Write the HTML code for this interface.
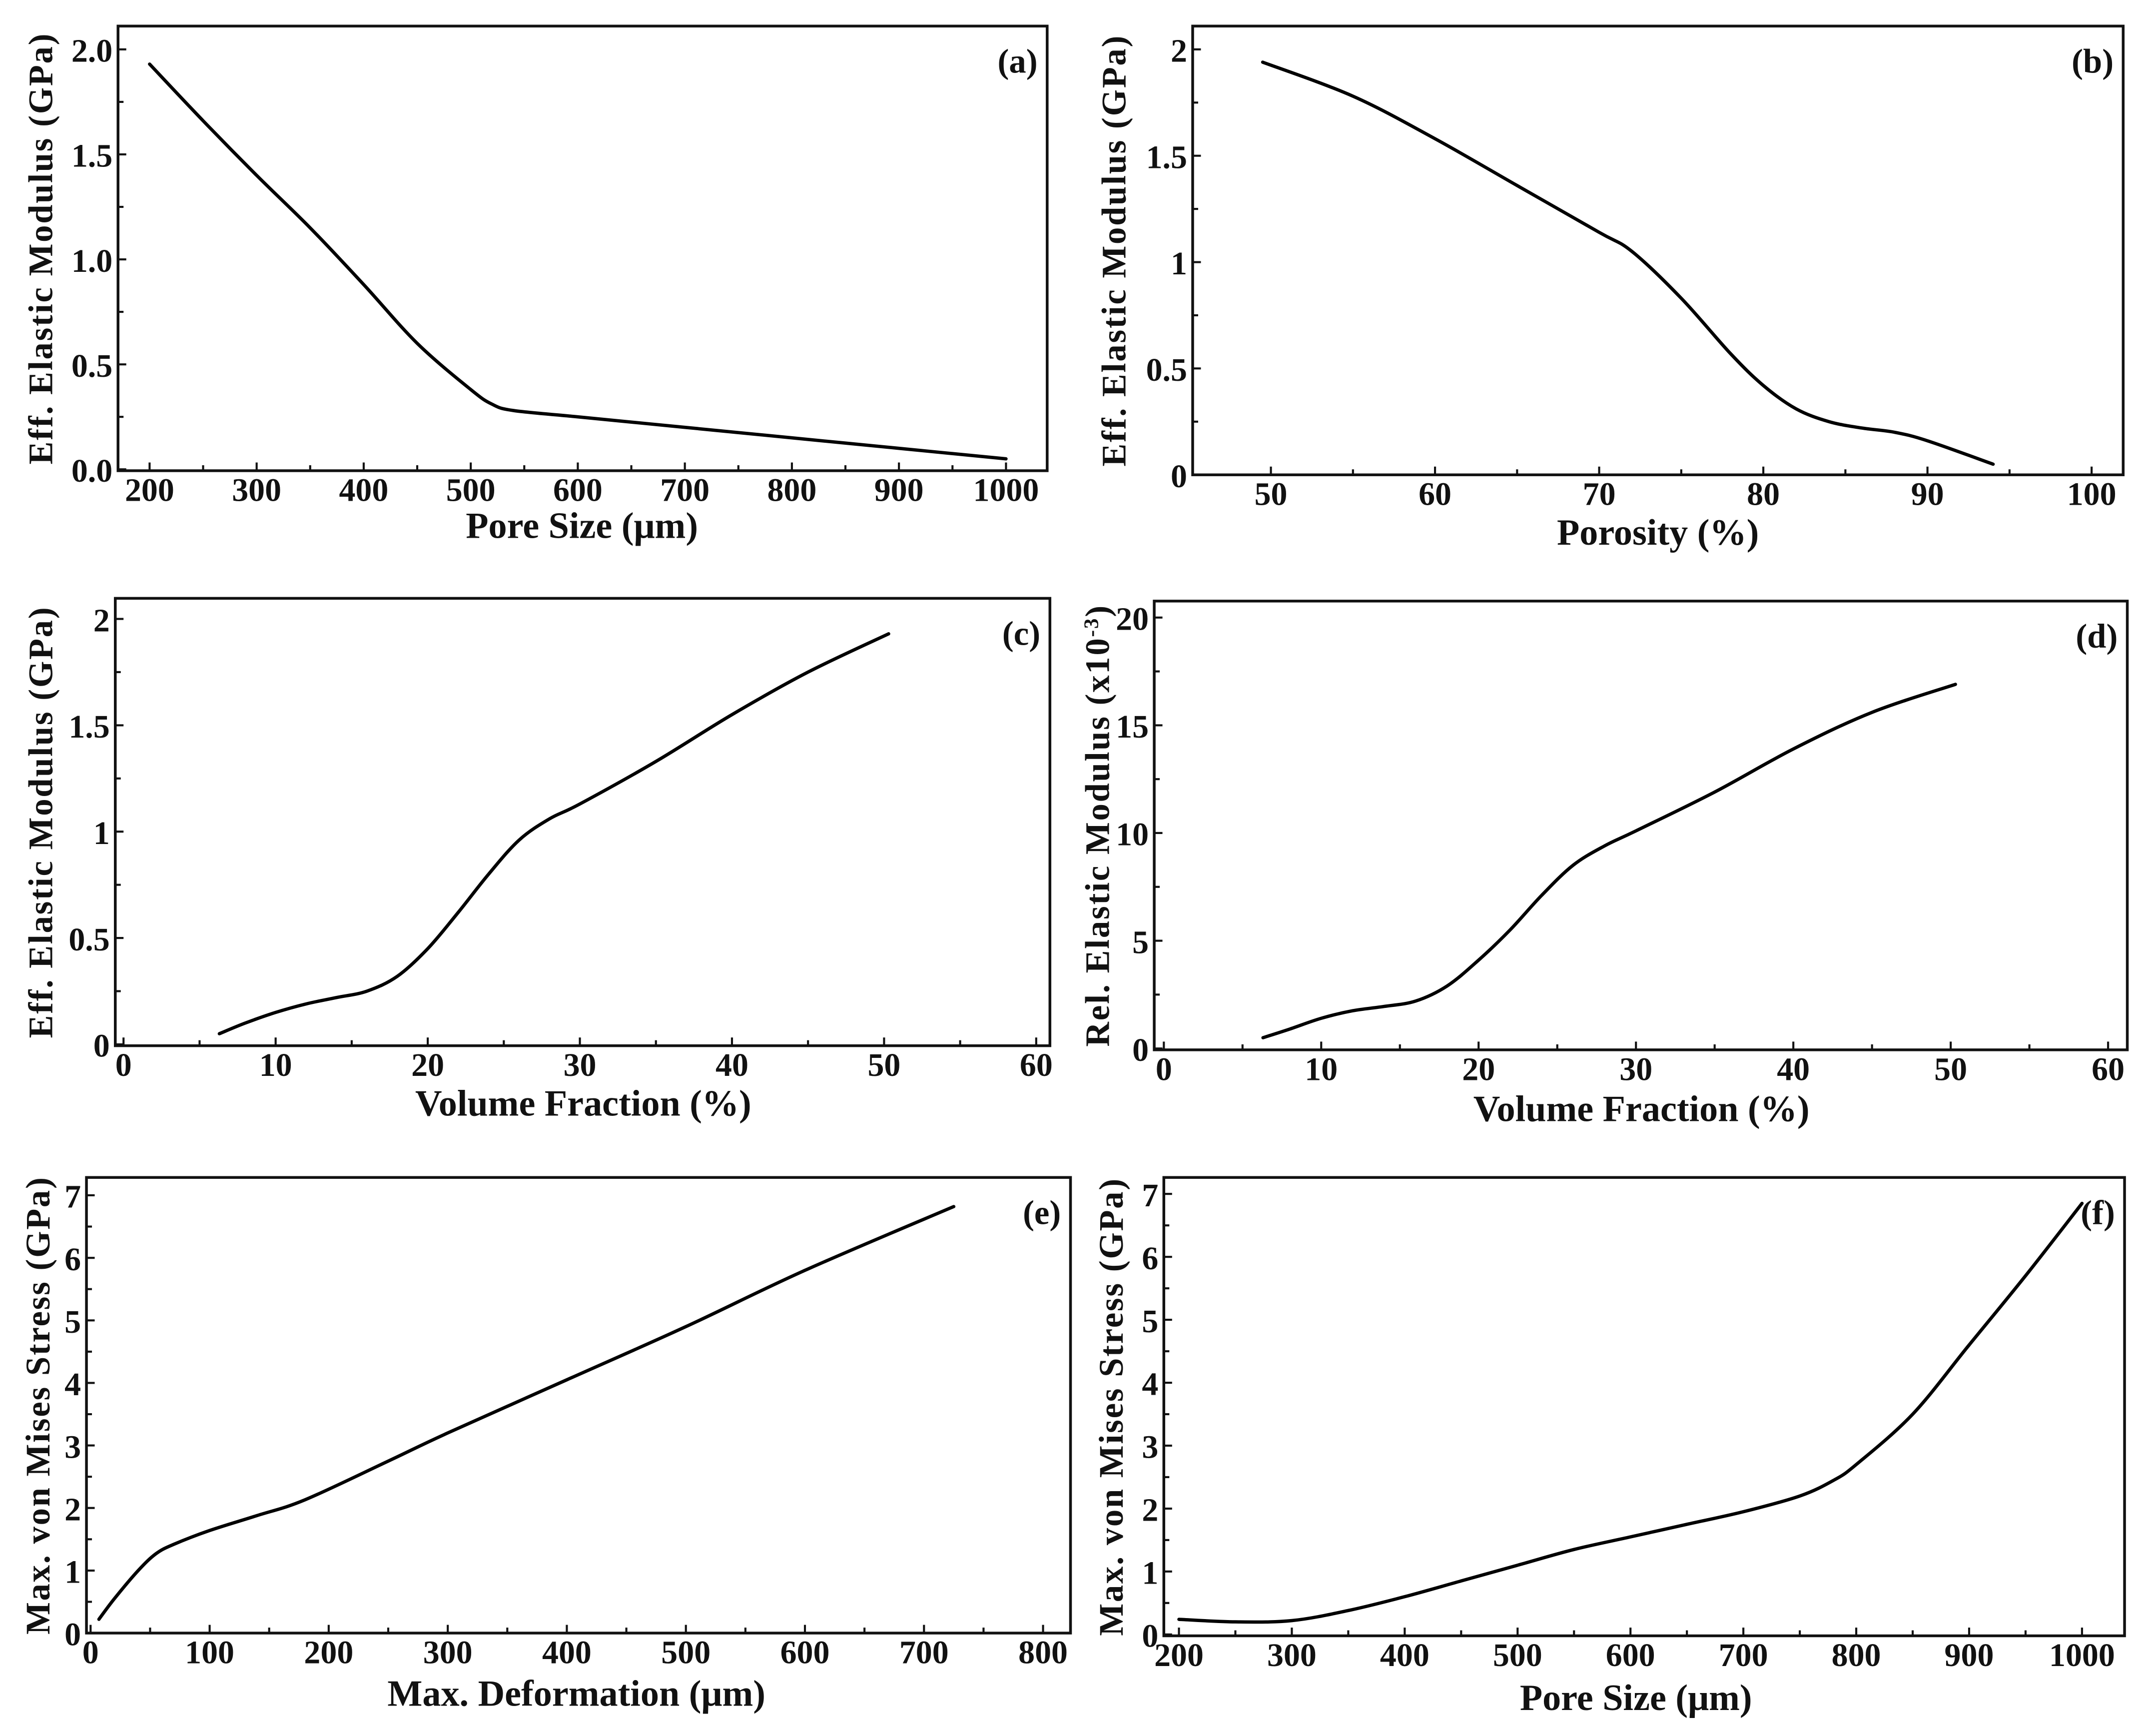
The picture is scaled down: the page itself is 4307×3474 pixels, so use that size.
<!DOCTYPE html>
<html><head><meta charset="utf-8">
<style>
html,body{margin:0;padding:0;background:#fff;}
svg{display:block;}
text{font-family:"Liberation Serif",serif;fill:#111;}
</style></head>
<body>
<svg id="fig" width="4307" height="3474" viewBox="0 0 1568 1265" preserveAspectRatio="none" xmlns="http://www.w3.org/2000/svg"></svg>
<script>
// ---- data ----
const aX=[200,250,300,350,400,450,500,520,540,600,700,800,900,1000];
const aY=[1.93,1.66,1.40,1.15,0.88,0.60,0.38,0.31,0.28,0.25,0.20,0.15,0.10,0.05];
const bX=[49.5,55,60,65,70,72,75,78,80,82,84,86,88,90,94];
const bY=[1.94,1.78,1.58,1.36,1.14,1.05,0.83,0.57,0.42,0.31,0.25,0.22,0.20,0.16,0.05];
const cX=[6.3,8,10,12,14,16,18,20,22,24,26,28,30,35,40,45,50.3];
const cY=[0.05,0.10,0.15,0.19,0.22,0.25,0.32,0.45,0.62,0.80,0.96,1.06,1.13,1.33,1.55,1.75,1.93];
const dX=[6.3,8,10,12,14,16,18,20,22,24,26,28,30,35,40,45,50.3];
const dY=[0.5,0.9,1.4,1.75,1.95,2.2,2.9,4.1,5.5,7.1,8.5,9.4,10.1,11.9,13.9,15.6,16.9];
const eX=[7,20,40,55,70,100,140,180,250,300,400,500,600,725];
const eY=[0.22,0.55,1.0,1.27,1.42,1.64,1.88,2.13,2.75,3.2,4.05,4.9,5.8,6.82];
const fX=[200,250,300,350,400,450,500,550,600,650,700,750,780,800,850,900,950,1000];
const fY=[0.24,0.20,0.22,0.38,0.60,0.85,1.10,1.35,1.55,1.75,1.95,2.20,2.45,2.70,3.50,4.60,5.70,6.85];
const aXT=[200,300,400,500,600,700,800,900,1000];
const aYT=["0.0","0.5","1.0","1.5","2.0"];
const bXT=[50,60,70,80,90,100];
const bYT=["0","0.5","1","1.5","2"];
const cXT=[0,10,20,30,40,50,60];
const cYT=["0","0.5","1","1.5","2"];
const dXT=[0,10,20,30,40,50,60];
const dYT=["0","5","10","15","20"];
const eXT=[0,100,200,300,400,500,600,700,800];
const eYT=["0","1","2","3","4","5","6","7"];
const fXT=[200,300,400,500,600,700,800,900,1000];
const fYT=["0","1","2","3","4","5","6","7"];

const NS="http://www.w3.org/2000/svg";
const svg=document.getElementById('fig');
function mk(tag,attrs,parent){const e=document.createElementNS(NS,tag);for(const k in attrs)e.setAttribute(k,attrs[k]);(parent||svg).appendChild(e);return e;}

const panels=[
 {id:'a',fr:[86,19,763,343],xm:[200,109,1000,733],ym:[0,342,2,36],xs:aX,ys:aY,xt:aXT,yt:aYT,xmin:50,ymin:0.25,xl:'Pore Size (μm)',xlx:424,xly:392,yl:'Eff. Elastic Modulus (GPa)',ylx:38,lab:'(a)'},
 {id:'b',fr:[869,19,1547,346],xm:[50,926,100,1524],ym:[0,346,2,36],xs:bX,ys:bY,xt:bXT,yt:bYT,xmin:5,ymin:0.25,xl:'Porosity (%)',xlx:1208,xly:397,yl:'Eff. Elastic Modulus (GPa)',ylx:820,lab:'(b)'},
 {id:'c',fr:[84,436,765,762],xm:[0,90,60,755],ym:[0,761,2,451],xs:cX,ys:cY,xt:cXT,yt:cYT,xmin:5,ymin:0.25,xl:'Volume Fraction (%)',xlx:425,xly:813,yl:'Eff. Elastic Modulus (GPa)',ylx:38,lab:'(c)'},
 {id:'d',fr:[841,438,1550,765],xm:[0,848,60,1536],ym:[0,764,20,450],xs:dX,ys:dY,xt:dXT,yt:dYT,xmin:5,ymin:2.5,xl:'Volume Fraction (%)',xlx:1196,xly:817,yl:'Rel. Elastic Modulus (x10',ylx:808,lab:'(d)',sup:true},
 {id:'e',fr:[63,858,780,1190],xm:[0,66,800,760],ym:[0,1190,7,871],xs:eX,ys:eY,xt:eXT,yt:eYT,xmin:50,ymin:0.5,xl:'Max. Deformation (μm)',xlx:420,xly:1243,yl:'Max. von Mises Stress (GPa)',ylx:36,lab:'(e)'},
 {id:'f',fr:[848,858,1548,1192],xm:[200,859,1000,1517],ym:[0,1191,7,870],xs:fX,ys:fY,xt:fXT,yt:fYT,xmin:50,ymin:0.5,xl:'Pore Size (μm)',xlx:1192,xly:1246,yl:'Max. von Mises Stress (GPa)',ylx:818,lab:'(f)'}
];

function smoothPath(pts){
 let d='M'+pts[0][0].toFixed(2)+','+pts[0][1].toFixed(2);
 for(let i=0;i<pts.length-1;i++){
  const p0=pts[Math.max(i-1,0)],p1=pts[i],p2=pts[i+1],p3=pts[Math.min(i+2,pts.length-1)];
  const c1=[p1[0]+(p2[0]-p0[0])/6,p1[1]+(p2[1]-p0[1])/6];
  const c2=[p2[0]-(p3[0]-p1[0])/6,p2[1]-(p3[1]-p1[1])/6];
  d+='C'+c1[0].toFixed(2)+','+c1[1].toFixed(2)+' '+c2[0].toFixed(2)+','+c2[1].toFixed(2)+' '+p2[0].toFixed(2)+','+p2[1].toFixed(2);
 }
 return d;
}

panels.forEach(p=>{
 const g=mk('g',{});
 
 
 const sx=v=>p.xm[1]+(v-p.xm[0])*(p.xm[3]-p.xm[1])/(p.xm[2]-p.xm[0]);
 const sy=v=>p.ym[1]+(v-p.ym[0])*(p.ym[3]-p.ym[1])/(p.ym[2]-p.ym[0]);
 const [L,T,R,B]=p.fr;
 const fr=mk('rect',{x:L,y:T,width:R-L,height:B-T,fill:'none',stroke:'#111','stroke-width':2},g);
 
 
 const x0=+p.xt[0],x1=+p.xt[p.xt.length-1];
 for(let v=x0;v<=x1+1e-9;v+=p.xmin){
  const X=sx(v); const major=p.xt.some(t=>Math.abs(+t-v)<1e-9);
  const t=mk('line',{x1:X,y1:B,x2:X,y2:B-(major?6:4),stroke:'#111','stroke-width':1.5},g);
  
  
 }
 p.xt.forEach(v=>{
  const t=mk('text',{x:sx(+v),y:B+22,'text-anchor':'middle','font-size':24,'font-weight':'bold'},g);
  t.textContent=v;
  
  
 });
 const y0=+p.yt[0],y1=+p.yt[p.yt.length-1];
 for(let v=y0;v<=y1+1e-9;v+=p.ymin){
  const Y=sy(v); const major=p.yt.some(t=>Math.abs(+t-v)<1e-9);
  const t=mk('line',{x1:L,y1:Y,x2:L+(major?6:4),y2:Y,stroke:'#111','stroke-width':1.5},g);
  
  
 }
 p.yt.forEach(v=>{
  const t=mk('text',{x:L-4,y:sy(+v)+9,'text-anchor':'end','font-size':24,'font-weight':'bold'},g);
  t.textContent=v;
  
  
 });
 const pts=p.xs.map((v,i)=>[sx(v),sy(p.ys[i])]);
 const c=mk('path',{d:smoothPath(pts),fill:'none',stroke:'#000','stroke-width':2.4,'stroke-linejoin':'round','stroke-linecap':'round'},g);
 
 
 const xl=mk('text',{x:p.xlx,y:p.xly,'text-anchor':'middle','font-size':27,'font-weight':'bold'},g);
 xl.textContent=p.xl;
 
 
 const cy=(T+B)/2;
 const yl=mk('text',{x:p.ylx,y:cy,'text-anchor':'middle','font-size':25,'font-weight':'bold','letter-spacing':1,transform:'rotate(-90 '+p.ylx+' '+cy+')'},g);
 yl.textContent=p.yl;
 if(p.sup){const s=mk('tspan',{dy:-8,'font-size':15},yl);s.textContent='-3';const s2=mk('tspan',{dy:8},yl);s2.textContent=')';}
 
 
 const lb=mk('text',{x:R-7,y:T+34,'text-anchor':'end','font-size':25,'font-weight':'bold'},g);
 lb.textContent=p.lab;
 
 
});
</script>
</body></html>
